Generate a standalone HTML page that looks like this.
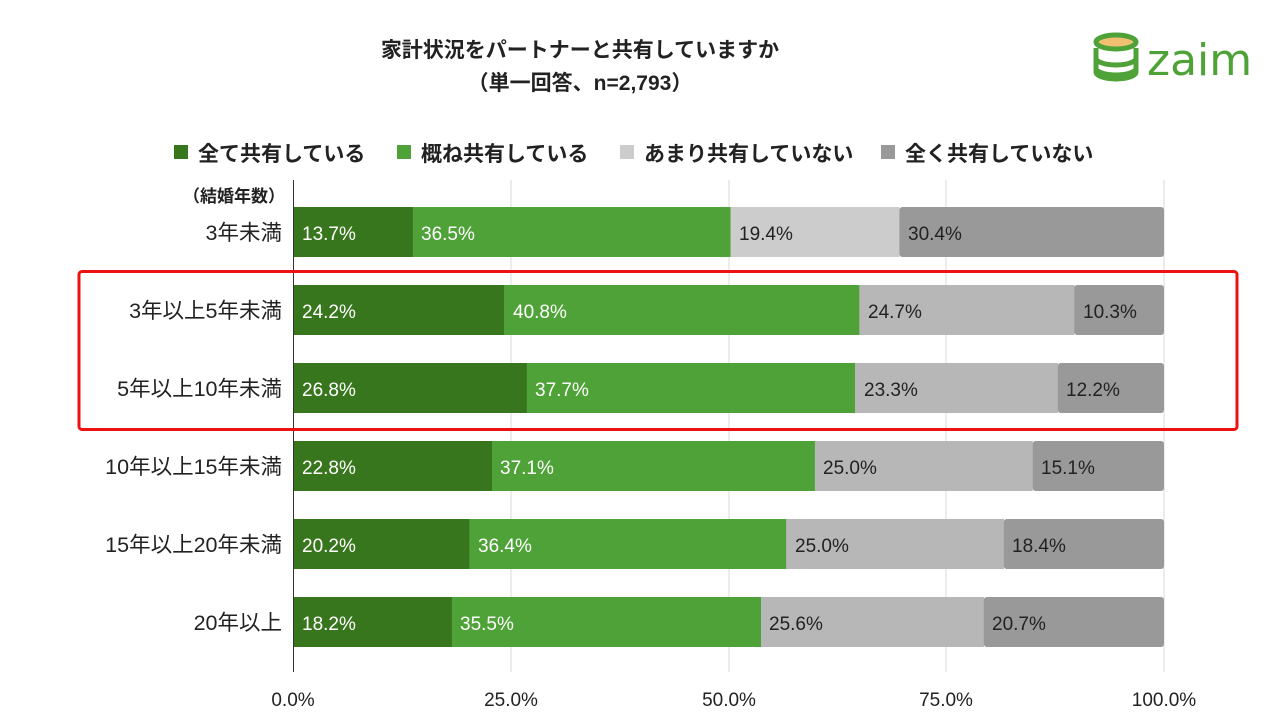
<!DOCTYPE html>
<html><head><meta charset="utf-8"><style>
html,body{margin:0;padding:0;background:#fff;}
svg{display:block;font-family:"Liberation Sans","Noto Sans CJK JP",sans-serif;}
</style></head><body>
<svg width="1280" height="717" viewBox="0 0 1280 717" xmlns="http://www.w3.org/2000/svg">
<rect width="1280" height="717" fill="#fff"/>
<text x="580" y="57" text-anchor="middle" font-size="21" font-weight="bold" fill="#222">家計状況をパートナーと共有していますか</text>
<text x="580" y="90" text-anchor="middle" font-size="21" font-weight="bold" fill="#222">（単一回答、n=2,793）</text>
<g fill="none" stroke="#4fa237" stroke-width="5">
<ellipse cx="1116" cy="42" rx="20" ry="7" fill="#f0c070"/>
<path d="M1096 48 v10 a20 7 0 0 0 40 0 v-10"/>
<path d="M1096 58 v10 a20 7 0 0 0 40 0 v-10"/>
<path d="M1096 68 v4 a20 7 0 0 0 40 0 v-4"/>
</g>
<text x="1147" y="75" font-size="44" fill="#4fa237" font-family="DejaVu Sans,sans-serif">zaim</text>
<g font-size="21" font-weight="bold" fill="#222">
<rect x="174" y="145" width="14" height="14" fill="#38761d"/><text x="198" y="161">全て共有している</text>
<rect x="397" y="145" width="14" height="14" fill="#4fa237"/><text x="421" y="161">概ね共有している</text>
<rect x="620" y="145" width="14" height="14" fill="#cccccc"/><text x="644" y="161">あまり共有していない</text>
<rect x="881" y="145" width="14" height="14" fill="#999999"/><text x="905" y="161">全く共有していない</text>
</g>
<g stroke="#d9d9d9" stroke-width="1">
<line x1="511" y1="180" x2="511" y2="672"/><line x1="729" y1="180" x2="729" y2="672"/>
<line x1="946" y1="180" x2="946" y2="672"/><line x1="1164" y1="180" x2="1164" y2="672"/>
</g>
<text x="285" y="202" text-anchor="end" font-size="17" font-weight="bold" fill="#222">（結婚年数）</text>
<g font-size="21.5" fill="#222" text-anchor="end">
<text x="282" y="240">3年未満</text>
<text x="282" y="318">3年以上5年未満</text>
<text x="282" y="396">5年以上10年未満</text>
<text x="282" y="474">10年以上15年未満</text>
<text x="282" y="552">15年以上20年未満</text>
<text x="282" y="630">20年以上</text>
</g>
<g font-size="19">
<rect x="293.5" y="207" width="119.5" height="50" fill="#38761d"/>
<rect x="412.8" y="207" width="317.9" height="50" fill="#4fa237"/>
<rect x="730.5" y="207" width="169" height="50" fill="#cccccc"/>
<rect x="899.4" y="207" width="264.6" height="50" rx="3" fill="#999999"/>
<text x="302" y="240" fill="#fff">13.7%</text><text x="421" y="240" fill="#fff">36.5%</text><text x="739" y="240" fill="#222">19.4%</text><text x="908" y="240" fill="#222">30.4%</text>
<rect x="293.5" y="285" width="210.9" height="50" fill="#38761d"/>
<rect x="504.2" y="285" width="355.3" height="50" fill="#4fa237"/>
<rect x="859.3" y="285" width="215.2" height="50" fill="#b7b7b7"/>
<rect x="1074.3" y="285" width="89.7" height="50" rx="3" fill="#999999"/>
<text x="302" y="318" fill="#fff">24.2%</text><text x="513" y="318" fill="#fff">40.8%</text><text x="868" y="318" fill="#222">24.7%</text><text x="1083" y="318" fill="#222">10.3%</text>
<rect x="293.5" y="363" width="233.5" height="50" fill="#38761d"/>
<rect x="526.8" y="363" width="328.4" height="50" fill="#4fa237"/>
<rect x="855" y="363" width="203" height="50" fill="#b7b7b7"/>
<rect x="1057.8" y="363" width="106.2" height="50" rx="3" fill="#999999"/>
<text x="302" y="396" fill="#fff">26.8%</text><text x="535" y="396" fill="#fff">37.7%</text><text x="864" y="396" fill="#222">23.3%</text><text x="1066" y="396" fill="#222">12.2%</text>
<rect x="293.5" y="441" width="198.7" height="50" fill="#38761d"/>
<rect x="492" y="441" width="323.1" height="50" fill="#4fa237"/>
<rect x="814.9" y="441" width="217.8" height="50" fill="#b7b7b7"/>
<rect x="1032.6" y="441" width="131.4" height="50" rx="3" fill="#999999"/>
<text x="302" y="474" fill="#fff">22.8%</text><text x="500" y="474" fill="#fff">37.1%</text><text x="823" y="474" fill="#222">25.0%</text><text x="1041" y="474" fill="#222">15.1%</text>
<rect x="293.5" y="519" width="176" height="50" fill="#38761d"/>
<rect x="469.3" y="519" width="317.1" height="50" fill="#4fa237"/>
<rect x="786.2" y="519" width="217.8" height="50" fill="#b7b7b7"/>
<rect x="1003.8" y="519" width="160.2" height="50" rx="3" fill="#999999"/>
<text x="302" y="552" fill="#fff">20.2%</text><text x="478" y="552" fill="#fff">36.4%</text><text x="795" y="552" fill="#222">25.0%</text><text x="1012" y="552" fill="#222">18.4%</text>
<rect x="293.5" y="597" width="158.6" height="50" fill="#38761d"/>
<rect x="451.9" y="597" width="309.2" height="50" fill="#4fa237"/>
<rect x="761" y="597" width="223" height="50" fill="#b7b7b7"/>
<rect x="983.8" y="597" width="180.2" height="50" rx="3" fill="#999999"/>
<text x="302" y="630" fill="#fff">18.2%</text><text x="460" y="630" fill="#fff">35.5%</text><text x="769" y="630" fill="#222">25.6%</text><text x="992" y="630" fill="#222">20.7%</text>
</g>
<line x1="293.5" y1="180" x2="293.5" y2="672" stroke="#333" stroke-width="1"/>
<g font-size="19" fill="#222" text-anchor="middle">
<text x="293" y="706">0.0%</text><text x="511" y="706">25.0%</text><text x="729" y="706">50.0%</text><text x="946" y="706">75.0%</text><text x="1164" y="706">100.0%</text>
</g>
<rect x="79" y="271.5" width="1158" height="158" rx="3" fill="none" stroke="#ee1111" stroke-width="3"/>
</svg>
</body></html>
